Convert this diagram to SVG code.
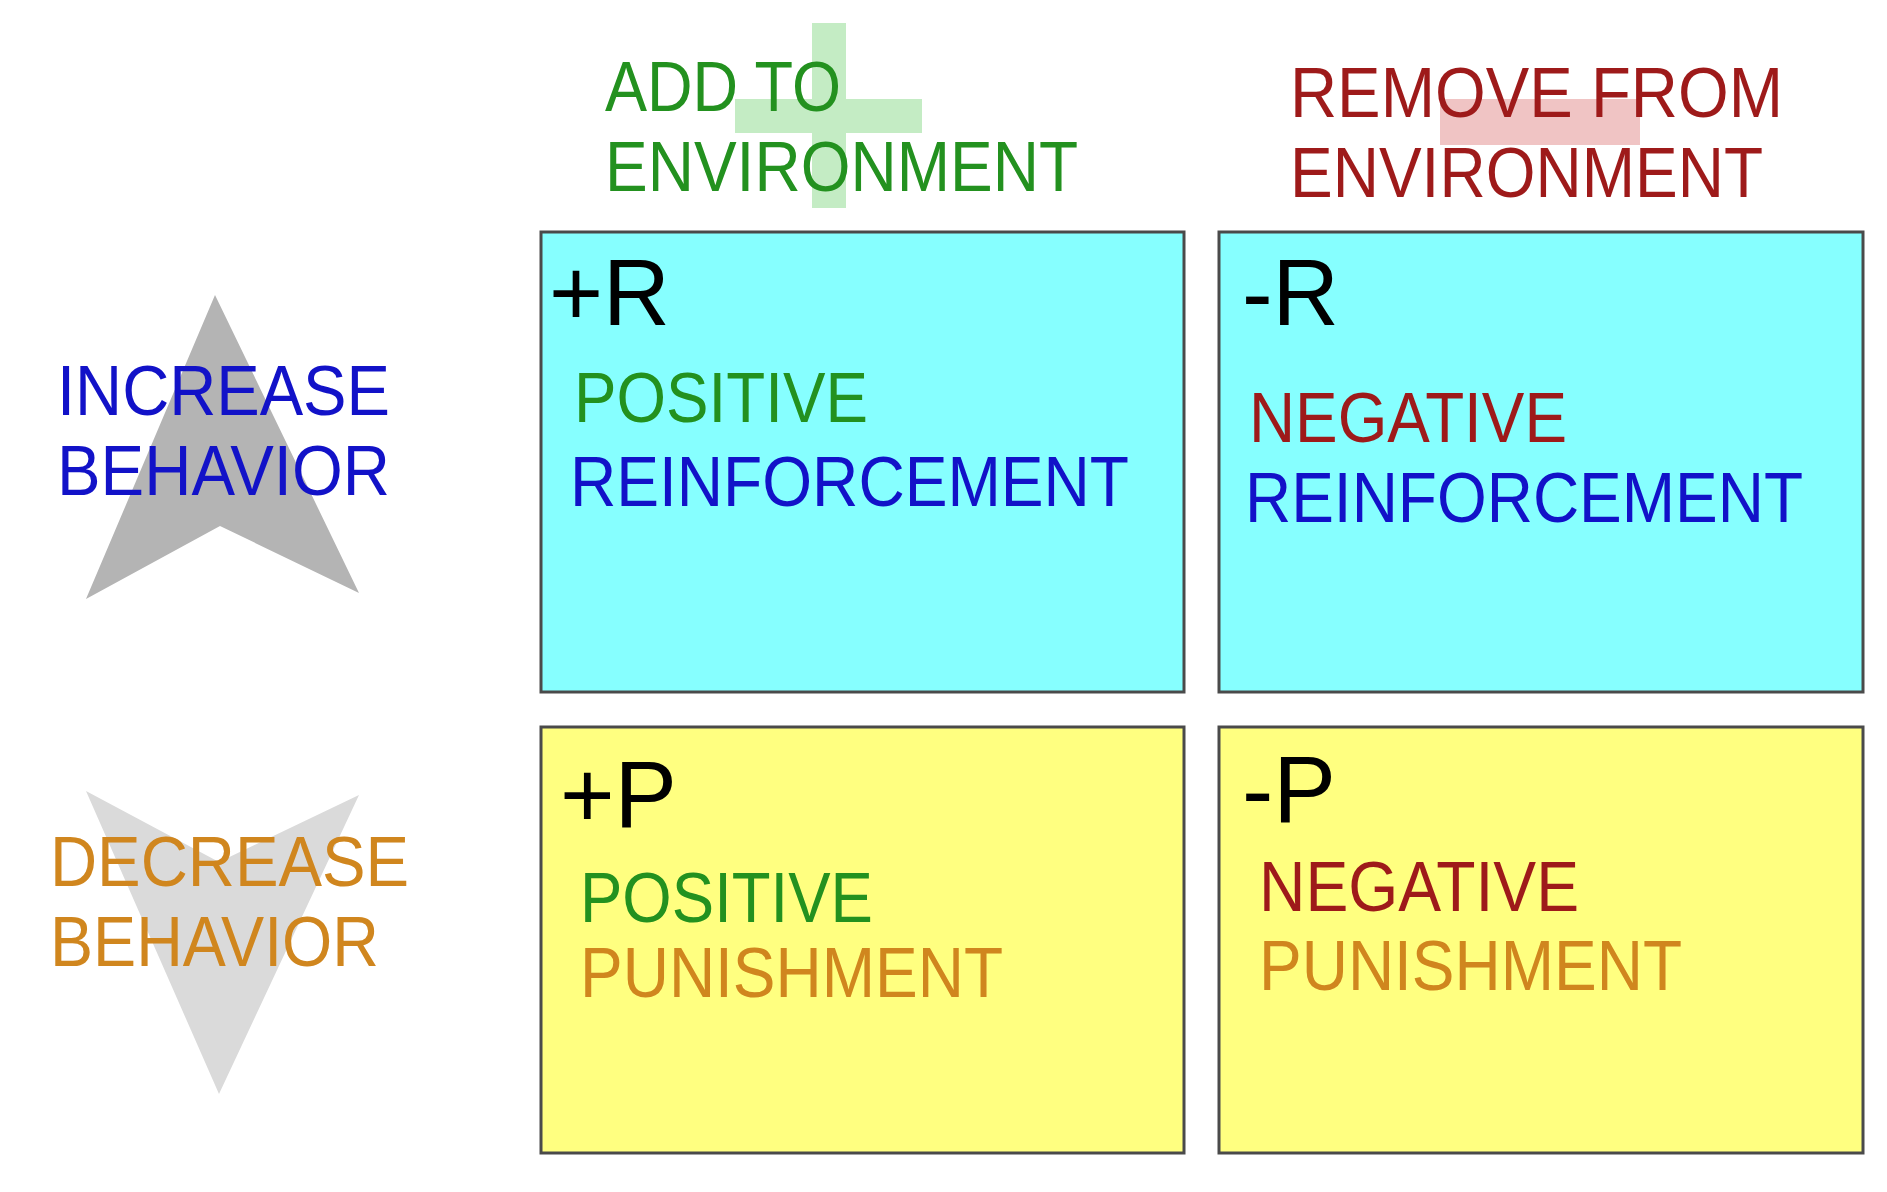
<svg xmlns="http://www.w3.org/2000/svg" width="1887" height="1192" viewBox="0 0 1887 1192">
<style>
text{font-family:"Liberation Sans",Arial,sans-serif;font-size:70px}
.big{font-size:95px;fill:#000}
.g{fill:#23911f}
.b{fill:#1212c8}
.r{fill:#9e1a1a}
.o{fill:#d0861e}
.cell{stroke:#4a4a4a;stroke-width:3}
.cy{fill:#86ffff}
.ye{fill:#ffff80}
</style>
<rect width="1887" height="1192" fill="#ffffff"/>
<g id="header-add">
<rect x="812" y="23" width="34" height="185" fill="#c4ecc4"/>
<rect x="735" y="99" width="187" height="34" fill="#c4ecc4"/>
<text class="g" x="605" y="111" textLength="236" lengthAdjust="spacingAndGlyphs">ADD TO</text>
<text class="g" x="605" y="191" textLength="473" lengthAdjust="spacingAndGlyphs">ENVIRONMENT</text>
</g>
<g id="header-remove">
<rect x="1440" y="99" width="200" height="46" fill="#f0c4c4"/>
<text class="r" x="1290" y="117" textLength="493" lengthAdjust="spacingAndGlyphs">REMOVE FROM</text>
<text class="r" x="1290" y="197" textLength="473" lengthAdjust="spacingAndGlyphs">ENVIRONMENT</text>
</g>
<g id="row-increase">
<polygon points="215,295 359,593 220,526 86,599" fill="#b4b4b4"/>
<text class="b" x="57" y="415" textLength="333" lengthAdjust="spacingAndGlyphs">INCREASE</text>
<text class="b" x="57" y="495" textLength="333" lengthAdjust="spacingAndGlyphs">BEHAVIOR</text>
</g>
<g id="row-decrease">
<polygon points="86,791 219,862 359,795 219,1094" fill="#dadada"/>
<text class="o" x="50" y="886" textLength="359" lengthAdjust="spacingAndGlyphs">DECREASE</text>
<text class="o" x="50" y="966" textLength="329" lengthAdjust="spacingAndGlyphs">BEHAVIOR</text>
</g>
<g id="positive-reinforcement">
<rect class="cell cy" x="541" y="232" width="643" height="460"/>
<text class="big" x="549" y="325" textLength="121" lengthAdjust="spacingAndGlyphs">+R</text>
<text class="g" x="574" y="422" textLength="294" lengthAdjust="spacingAndGlyphs">POSITIVE</text>
<text class="b" x="570" y="506" textLength="559" lengthAdjust="spacingAndGlyphs">REINFORCEMENT</text>
</g>
<g id="negative-reinforcement">
<rect class="cell cy" x="1219" y="232" width="644" height="460"/>
<text class="big" x="1242" y="325" textLength="97" lengthAdjust="spacingAndGlyphs">-R</text>
<text class="r" x="1249" y="442" textLength="318" lengthAdjust="spacingAndGlyphs">NEGATIVE</text>
<text class="b" x="1245" y="522" textLength="558" lengthAdjust="spacingAndGlyphs">REINFORCEMENT</text>
</g>
<g id="positive-punishment">
<rect class="cell ye" x="541" y="727" width="643" height="426"/>
<text class="big" x="560" y="827" textLength="117" lengthAdjust="spacingAndGlyphs">+P</text>
<text class="g" x="580" y="922" textLength="293" lengthAdjust="spacingAndGlyphs">POSITIVE</text>
<text class="o" x="580" y="997" textLength="423" lengthAdjust="spacingAndGlyphs">PUNISHMENT</text>
</g>
<g id="negative-punishment">
<rect class="cell ye" x="1219" y="727" width="644" height="426"/>
<text class="big" x="1242" y="822" textLength="94" lengthAdjust="spacingAndGlyphs">-P</text>
<text class="r" x="1259" y="911" textLength="320" lengthAdjust="spacingAndGlyphs">NEGATIVE</text>
<text class="o" x="1259" y="990" textLength="423" lengthAdjust="spacingAndGlyphs">PUNISHMENT</text>
</g>
<g id="connectors"></g>
</svg>
